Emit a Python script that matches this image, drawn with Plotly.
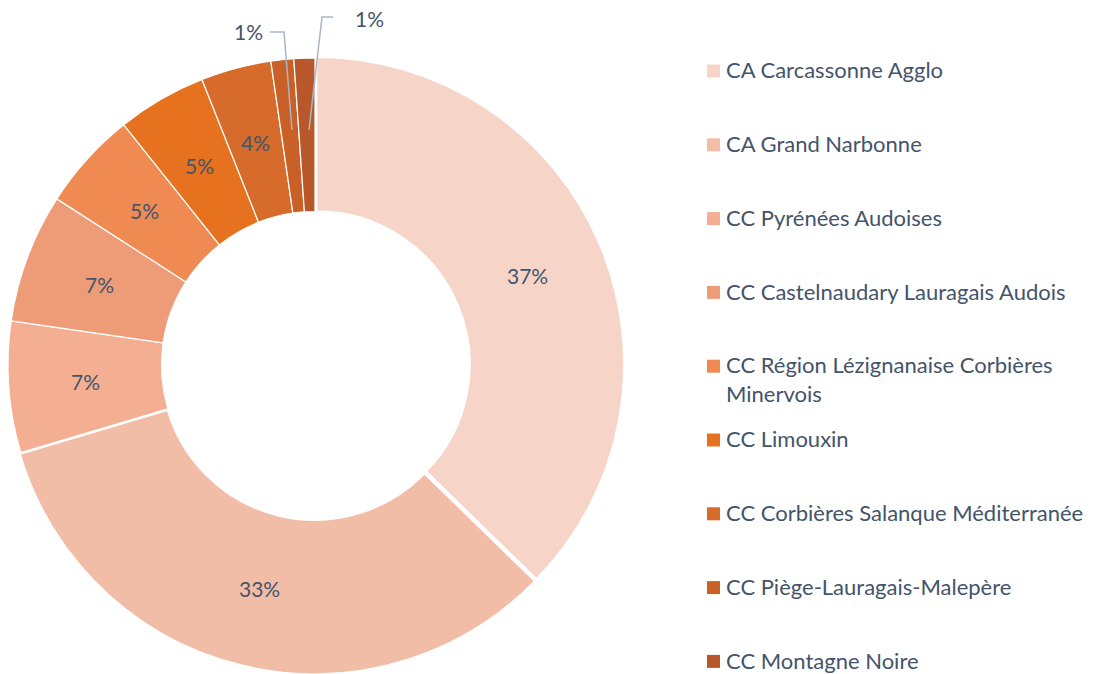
import math
import plotly.graph_objects as go

labels = [
    "CA Carcassonne Agglo",
    "CA Grand Narbonne",
    "CC Pyrénées Audoises",
    "CC Castelnaudary Lauragais Audois",
    "CC Région Lézignanaise Corbières<br>Minervois",
    "CC Limouxin",
    "CC Corbières Salanque Méditerranée",
    "CC Piège-Lauragais-Malepère",
    "CC Montagne Noire",
]
values = [37.3, 33.1, 6.9, 6.8, 5.2, 4.7, 3.7, 1.2, 1.1]
colors = ["#F7D4C8", "#F2BDA7", "#F4AF92", "#EE9B78", "#EF8A52",
          "#E6721F", "#D66B2B", "#C96027", "#B8582A"]
outside_idx = [7, 8]

W, H = 1100, 674
TXT = "#44546A"
FONT = "Lato"
FS = 22
HOLE = 0.5

def px(x, y):
    return x / W, 1 - y / H

cx, cy, R = 315, 365, 307
pull = [0.006, 0.006, 0, 0, 0, 0, 0, 0, 0]
Rd = R * (1 + max(pull))
x0, y0 = px(cx - Rd, min(cy + Rd, H))
x1, y1 = px(cx + Rd, cy - Rd)
y0 = max(0.0, y0)

fig = go.Figure(go.Pie(
    labels=labels,
    values=values,
    textinfo="none",
    hole=HOLE,
    sort=False,
    direction="clockwise",
    rotation=0,
    pull=pull,
    marker=dict(colors=colors, line=dict(color="white", width=1.2)),
    domain=dict(x=[x0, x1], y=[y0, y1]),
    showlegend=False,
))

shapes, annos = [], []

# percentage labels centred in the ring (clockwise from 12 o'clock)
total = sum(values)
cum = 0.0
rmid = R * (1 + HOLE) / 2
for i, v in enumerate(values):
    m = (cum + v / 2) / total
    cum += v
    if i in outside_idx:
        continue
    th = 2 * math.pi * m
    lx, ly = px(cx + rmid * math.sin(th), cy - rmid * math.cos(th))
    annos.append(dict(x=lx, y=ly, xref="paper", yref="paper", showarrow=False,
                      xanchor="center", yanchor="middle",
                      text=f"{round(v / total * 100)}%",
                      font=dict(family=FONT, size=21, color=TXT)))

# leader lines and labels for the small slices
leaders = [
    dict(pts=[(292, 130), (284, 32), (270, 32)], txt=(248, 32)),
    dict(pts=[(309, 130), (322, 17), (333, 17)], txt=(369, 18)),
]
for idx, ld in zip(outside_idx, leaders):
    path = ""
    for k, (x, y) in enumerate(ld["pts"]):
        a, b = px(x, y)
        path += ("M" if k == 0 else "L") + f"{a},{b} "
    shapes.append(dict(type="path", path=path, xref="paper", yref="paper",
                       line=dict(color="#A9B6C6", width=1.5)))
    tx, ty = px(*ld["txt"])
    annos.append(dict(x=tx, y=ty, xref="paper", yref="paper", showarrow=False,
                      xanchor="center", yanchor="middle",
                      text=f"{round(values[idx] / total * 100)}%",
                      font=dict(family=FONT, size=21, color=TXT)))

# legend (drawn as shapes + annotations from labels/colors)
leg_x_sym, leg_x_txt, leg_y0, leg_step, sym = 707, 724, 71, 73.8, 13
for i, (lab, col) in enumerate(zip(labels, colors)):
    yc = leg_y0 + i * leg_step
    ax0, ay0 = px(leg_x_sym, yc + sym / 2)
    ax1, ay1 = px(leg_x_sym + sym, yc - sym / 2)
    shapes.append(dict(type="rect", xref="paper", yref="paper",
                       x0=ax0, y0=ay0, x1=ax1, y1=ay1,
                       fillcolor=col, line=dict(width=0)))
    tx, ty = px(leg_x_txt, yc - FS * 1.3 / 2 - 2.5)
    annos.append(dict(x=tx, y=ty, xref="paper", yref="paper", showarrow=False,
                      xanchor="left", yanchor="top", align="left",
                      text=lab, font=dict(family=FONT, size=FS, color=TXT)))

fig.update_layout(
    width=W, height=H,
    margin=dict(l=0, r=0, t=0, b=0),
    paper_bgcolor="white",
    plot_bgcolor="white",
    shapes=shapes,
    annotations=annos,
    showlegend=False,
)

fig.write_html("out.html", config={"displayModeBar": False},
               post_script="document.body.style.margin='0px';")
